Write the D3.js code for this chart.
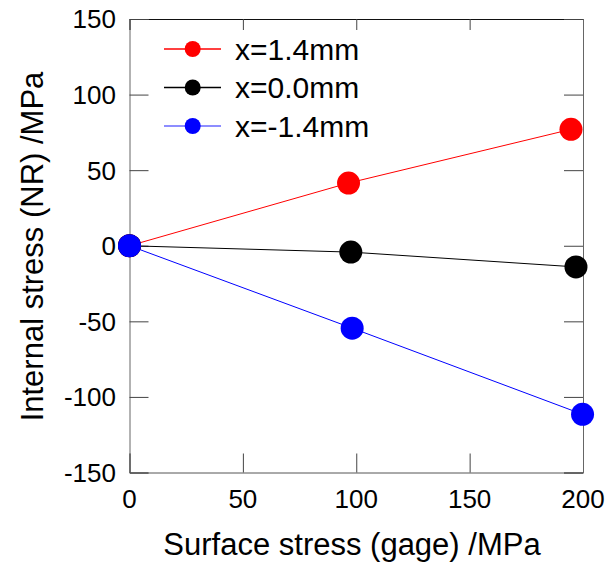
<!DOCTYPE html>
<html>
<head>
<meta charset="utf-8">
<script src="https://cdn.jsdelivr.net/npm/d3@7"></script>
<style>
body { margin: 0; background: #fff; }
svg { display: block; font-family: "Liberation Sans", Arial, sans-serif; }
</style>
</head>
<body>
<div id="chart"></div>
<script>
// data
var seriesNames = ["x=1.4mm", "x=0.0mm", "x=-1.4mm"];
var seriesColors = ["#ff0000", "#000000", "#0000ff"];
var surfaceRed = [0, 96.6, 194.7];
var internalRed = [0, 41.5, 77];
var surfaceBlack = [0, 97.6, 196.9];
var internalBlack = [0, -4.2, -14];
var surfaceBlue = [0, 98.2, 199.8];
var internalBlue = [0, -54.5, -111.5];
var xTicks = [0, 50, 100, 150, 200];
var yTicks = [-150, -100, -50, 0, 50, 100, 150];

var series = [
	{name: seriesNames[0], color: seriesColors[0], xs: surfaceRed, ys: internalRed},
	{name: seriesNames[1], color: seriesColors[1], xs: surfaceBlack, ys: internalBlack},
	{name: seriesNames[2], color: seriesColors[2], xs: surfaceBlue, ys: internalBlue}
];

var width = 608, height = 562,
margin = {top: 19, right: 25, bottom: 89.5, left: 129.5};

var svg = d3.select("#chart").append("svg")
.attr("width", width)
.attr("height", height);

var x = d3.scaleLinear()
.domain([0, 200])
.range([margin.left, width - margin.right]);

var y = d3.scaleLinear()
.domain([-150, 150])
.range([height - margin.bottom, margin.top]);

// frame with inward ticks
svg.append("g")
.attr("transform", `translate(0,${y(-150)})`)
.call(d3.axisBottom(x).tickValues(xTicks).tickSize(-19).tickPadding(0).tickFormat(""))
.call(g => g.select(".domain").attr("stroke", "#555"))
.call(g => g.selectAll(".tick line").attr("stroke", "#444"));

svg.append("g")
.attr("transform", `translate(0,${y(150)})`)
.call(d3.axisTop(x).tickValues(xTicks).tickSize(-11).tickFormat(""))
.call(g => g.select(".domain").attr("stroke", "#111"))
.call(g => g.selectAll(".tick line").attr("stroke", "#444"));

svg.append("g")
.attr("transform", `translate(${x(0)},0)`)
.call(d3.axisLeft(y).tickValues(yTicks).tickSize(-19).tickFormat(""))
.call(g => g.select(".domain").attr("stroke", "#666"))
.call(g => g.selectAll(".tick line").attr("stroke", "#444"));

svg.append("g")
.attr("transform", `translate(${x(200)},0)`)
.call(d3.axisRight(y).tickValues(yTicks).tickSize(-19).tickFormat(""))
.call(g => g.select(".domain").attr("stroke", "#666"))
.call(g => g.selectAll(".tick line").attr("stroke", "#444"));

// tick labels
svg.append("g")
.selectAll("text")
.data(xTicks)
.enter().append("text")
.attr("x", d => x(d))
.attr("y", 508)
.attr("text-anchor", "middle")
.attr("font-size", 26)
.text(d => d);

svg.append("g")
.selectAll("text")
.data(yTicks)
.enter().append("text")
.attr("x", 116)
.attr("y", d => y(d))
.attr("dy", "0.36em")
.attr("text-anchor", "end")
.attr("font-size", 26)
.text(d => d);

// axis titles
svg.append("text")
.attr("x", (163 + 541) / 2)
.attr("y", 555)
.attr("text-anchor", "middle")
.attr("font-size", 31)
.text("Surface stress (gage) /MPa");

svg.append("text")
.attr("transform", `translate(43,${(70 + 423) / 2}) rotate(-90)`)
.attr("text-anchor", "middle")
.attr("font-size", 31)
.text("Internal stress (NR) /MPa");

// lines
var line = d3.line()
.x(d => x(d[0]))
.y(d => y(d[1]));

series.forEach(function(s) {
	svg.append("path")
	.datum(s.xs.map((v, i) => [v, s.ys[i]]))
	.attr("fill", "none")
	.attr("stroke", s.color)
	.attr("stroke-width", 1)
	.attr("d", line);
});

series.forEach(function(s) {
	svg.append("g")
	.selectAll("circle")
	.data(s.xs.map((v, i) => [v, s.ys[i]]))
	.enter().append("circle")
	.attr("cx", d => x(d[0]))
	.attr("cy", d => y(d[1]))
	.attr("r", 11.5)
	.attr("fill", s.color);
});

// legend
var legend = svg.append("g")
.selectAll("g")
.data(series)
.enter().append("g")
.attr("transform", (d, i) => `translate(0,${49 + i * 38.5})`);

legend.append("line")
.attr("x1", 164)
.attr("x2", 221)
.attr("stroke", d => d.color)
.attr("stroke-opacity", (d, i) => i === 2 ? 0.6 : 1)
.attr("stroke-width", 1.5);

legend.append("circle")
.attr("cx", 192.7)
.attr("r", 8)
.attr("fill", d => d.color);

legend.append("text")
.attr("x", 235)
.attr("dy", "0.36em")
.attr("font-size", 30)
.text(d => d.name);
</script>
</body>
</html>
